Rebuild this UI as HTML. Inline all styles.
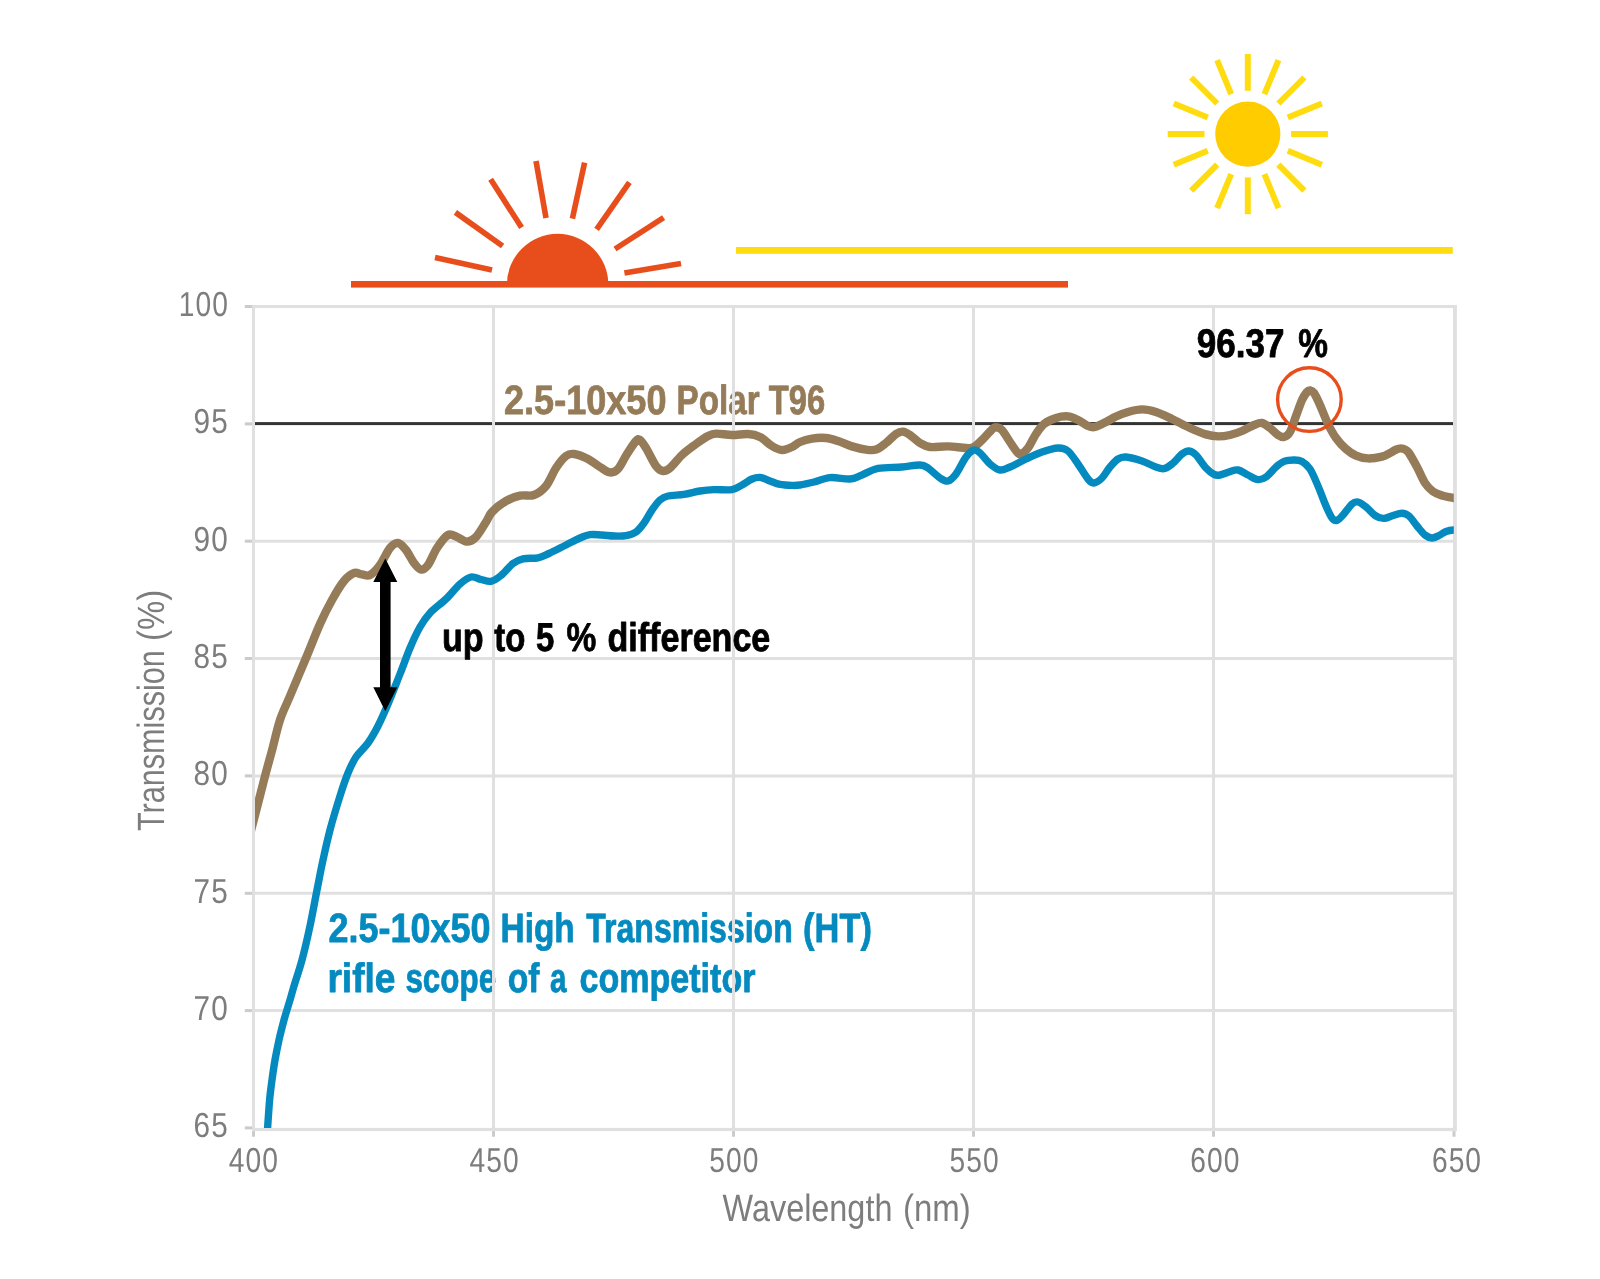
<!DOCTYPE html>
<html lang="en"><head><meta charset="utf-8"><title>Transmission chart</title>
<style>html,body{margin:0;padding:0;background:#fff}svg{display:block}text{font-family:"Liberation Sans",sans-serif;text-rendering:geometricPrecision}svg{will-change:transform}.t{fill:#7d7d7d}.k{letter-spacing:1.3px}.b{font-weight:bold;stroke-width:.8px;stroke-linejoin:round}</style></head><body>
<svg width="1600" height="1279" viewBox="0 0 1600 1279">
<rect width="1600" height="1279" fill="#fff"/>
<defs><clipPath id="plot"><rect x="255" y="300" width="1198.8" height="827.9"/></clipPath></defs>
<g stroke="#e84e1b" stroke-width="5.6" fill="none">
<line x1="435.0" y1="257.6" x2="492.0" y2="270.0"/>
<line x1="455.4" y1="212.4" x2="502.6" y2="246.0"/>
<line x1="490.6" y1="179.2" x2="521.6" y2="227.6"/>
<line x1="536.0" y1="161.0" x2="546.0" y2="218.0"/>
<line x1="584.6" y1="162.6" x2="572.4" y2="218.6"/>
<line x1="629.4" y1="182.4" x2="596.6" y2="229.4"/>
<line x1="663.6" y1="217.6" x2="615.0" y2="249.0"/>
<line x1="681.0" y1="263.4" x2="624.4" y2="273.0"/>
</g>
<path d="M506.9 284.5A50.7 50.7 0 0 1 608.3 284.5Z" fill="#e84e1b"/>
<rect x="351" y="281" width="717" height="6.6" fill="#e84e1b"/>
<g stroke="#ffdc10" stroke-width="6" fill="none">
<line x1="1291.1" y1="134.1" x2="1327.9" y2="134.1"/>
<line x1="1287.8" y1="150.7" x2="1321.8" y2="164.8"/>
<line x1="1278.4" y1="164.7" x2="1304.4" y2="190.7"/>
<line x1="1264.4" y1="174.1" x2="1278.5" y2="208.1"/>
<line x1="1247.8" y1="177.4" x2="1247.8" y2="214.2"/>
<line x1="1231.2" y1="174.1" x2="1217.1" y2="208.1"/>
<line x1="1217.2" y1="164.7" x2="1191.2" y2="190.7"/>
<line x1="1207.8" y1="150.7" x2="1173.8" y2="164.8"/>
<line x1="1204.5" y1="134.1" x2="1167.7" y2="134.1"/>
<line x1="1207.8" y1="117.5" x2="1173.8" y2="103.4"/>
<line x1="1217.2" y1="103.5" x2="1191.2" y2="77.5"/>
<line x1="1231.2" y1="94.1" x2="1217.1" y2="60.1"/>
<line x1="1247.8" y1="90.8" x2="1247.8" y2="54.0"/>
<line x1="1264.4" y1="94.1" x2="1278.5" y2="60.1"/>
<line x1="1278.4" y1="103.5" x2="1304.4" y2="77.5"/>
<line x1="1287.8" y1="117.5" x2="1321.8" y2="103.4"/>
</g>
<circle cx="1247.8" cy="134.1" r="32.6" fill="#ffcc00"/>
<rect x="736" y="247" width="716.8" height="6.8" fill="#ffdc10"/>
<rect x="255" y="422.1" width="1198" height="3" fill="#333"/>
<text class="b" y="414.2" font-size="41.0" fill="#957b58" stroke="#957b58"><tspan x="504.0" textLength="162.5" lengthAdjust="spacingAndGlyphs">2.5-10x50</tspan> <tspan x="676.6" textLength="83.0" lengthAdjust="spacingAndGlyphs">Polar</tspan> <tspan x="768.7" textLength="56.4" lengthAdjust="spacingAndGlyphs">T96</tspan></text>
<text class="b" y="941.5" font-size="41.0" fill="#048abf" stroke="#048abf"><tspan x="328.6" textLength="161.9" lengthAdjust="spacingAndGlyphs">2.5-10x50</tspan> <tspan x="500.5" textLength="74.3" lengthAdjust="spacingAndGlyphs">High</tspan> <tspan x="586.3" textLength="206.4" lengthAdjust="spacingAndGlyphs">Transmission</tspan> <tspan x="803.1" textLength="68.8" lengthAdjust="spacingAndGlyphs">(HT)</tspan></text>
<text class="b" y="992.3" font-size="41.0" fill="#048abf" stroke="#048abf"><tspan x="327.4" textLength="68.1" lengthAdjust="spacingAndGlyphs">rifle</tspan> <tspan x="405.4" textLength="90.7" lengthAdjust="spacingAndGlyphs">scope</tspan> <tspan x="507.7" textLength="31.7" lengthAdjust="spacingAndGlyphs">of</tspan> <tspan x="550.1" textLength="16.5" lengthAdjust="spacingAndGlyphs">a</tspan> <tspan x="579.5" textLength="176.0" lengthAdjust="spacingAndGlyphs">competitor</tspan></text>
<g stroke="#e0e0e0" stroke-width="3" fill="none">
<line x1="253.5" y1="541.2" x2="1455" y2="541.2"/>
<line x1="253.5" y1="658.5" x2="1455" y2="658.5"/>
<line x1="253.5" y1="775.9" x2="1455" y2="775.9"/>
<line x1="253.5" y1="893.2" x2="1455" y2="893.2"/>
<line x1="253.5" y1="1010.6" x2="1455" y2="1010.6"/>
<line x1="493.5" y1="306.5" x2="493.5" y2="1129.5"/>
<line x1="733.5" y1="306.5" x2="733.5" y2="1129.5"/>
<line x1="973.5" y1="306.5" x2="973.5" y2="1129.5"/>
<line x1="1213.5" y1="306.5" x2="1213.5" y2="1129.5"/>
</g>
<g fill="#e0e0e0">
<rect x="252" y="305" width="1204.9" height="3"/>
<rect x="252" y="1127.9" width="1204.9" height="3.2"/>
<rect x="252" y="305" width="3" height="826.1"/>
<rect x="1453" y="305" width="3.9" height="826.1"/>
</g>
<g fill="#cbcbcb">
<rect x="244.8" y="305.0" width="7.2" height="3"/>
<rect x="244.8" y="422.4" width="7.2" height="3"/>
<rect x="244.8" y="539.7" width="7.2" height="3"/>
<rect x="244.8" y="657.0" width="7.2" height="3"/>
<rect x="244.8" y="774.4" width="7.2" height="3"/>
<rect x="244.8" y="891.8" width="7.2" height="3"/>
<rect x="244.8" y="1009.1" width="7.2" height="3"/>
<rect x="244.8" y="1126.4" width="7.2" height="3"/>
<rect x="252.0" y="1131.1" width="3" height="5.6"/>
<rect x="492.0" y="1131.1" width="3" height="5.6"/>
<rect x="732.0" y="1131.1" width="3" height="5.6"/>
<rect x="972.0" y="1131.1" width="3" height="5.6"/>
<rect x="1212.0" y="1131.1" width="3" height="5.6"/>
<rect x="1452.5" y="1131.1" width="3" height="5.6"/>
</g>
<text class="t k" transform="translate(228.9 315.9) scale(0.8150 1)" font-size="34.6" text-anchor="end">100</text>
<text class="t k" transform="translate(228.9 433.2) scale(0.8600 1)" font-size="34.6" text-anchor="end">95</text>
<text class="t k" transform="translate(228.9 550.6) scale(0.8600 1)" font-size="34.6" text-anchor="end">90</text>
<text class="t k" transform="translate(228.9 667.9) scale(0.8600 1)" font-size="34.6" text-anchor="end">85</text>
<text class="t k" transform="translate(228.9 785.3) scale(0.8600 1)" font-size="34.6" text-anchor="end">80</text>
<text class="t k" transform="translate(228.9 902.6) scale(0.8600 1)" font-size="34.6" text-anchor="end">75</text>
<text class="t k" transform="translate(228.9 1020.0) scale(0.8600 1)" font-size="34.6" text-anchor="end">70</text>
<text class="t k" transform="translate(228.9 1137.3) scale(0.8600 1)" font-size="34.6" text-anchor="end">65</text>
<text class="t k" transform="translate(253.8 1172.3) scale(0.8150 1)" font-size="34.6" text-anchor="middle">400</text>
<text class="t k" transform="translate(494.7 1172.3) scale(0.8150 1)" font-size="34.6" text-anchor="middle">450</text>
<text class="t k" transform="translate(734.4 1172.3) scale(0.8150 1)" font-size="34.6" text-anchor="middle">500</text>
<text class="t k" transform="translate(974.7 1172.3) scale(0.8150 1)" font-size="34.6" text-anchor="middle">550</text>
<text class="t k" transform="translate(1215.4 1172.3) scale(0.8150 1)" font-size="34.6" text-anchor="middle">600</text>
<text class="t k" transform="translate(1457.0 1172.3) scale(0.8150 1)" font-size="34.6" text-anchor="middle">650</text>
<text class="t" y="164.1" font-size="38.0" transform="rotate(-90)"><tspan x="-831.1" textLength="181.0" lengthAdjust="spacingAndGlyphs">Transmission</tspan> <tspan x="-640.9" textLength="51.1" lengthAdjust="spacingAndGlyphs">(%)</tspan></text>
<text class="t" y="1220.7" font-size="38.0"><tspan x="722.6" textLength="169.8" lengthAdjust="spacingAndGlyphs">Wavelength</tspan> <tspan x="903.0" textLength="67.8" lengthAdjust="spacingAndGlyphs">(nm)</tspan></text>
<g clip-path="url(#plot)" fill="none" stroke-linejoin="round">
<path stroke="#957b58" stroke-width="8.4" d="M240.0 873.5C240.8 870.2 242.5 863.9 245.0 854.0C247.5 844.1 251.8 827.4 255.2 814.4C258.6 801.4 262.3 786.4 265.1 775.8C267.9 765.1 269.5 759.8 272.0 750.5C274.5 741.2 277.0 729.1 280.0 720.0C283.0 710.9 285.7 706.3 290.0 696.0C294.3 685.7 301.0 670.0 306.0 658.0C311.0 646.0 315.7 633.7 320.0 624.0C324.3 614.3 328.0 607.2 332.0 600.0C336.0 592.8 340.3 585.5 344.0 581.0C347.7 576.5 351.0 574.1 354.0 573.0C357.0 571.9 359.3 574.1 362.0 574.4C364.7 574.7 367.0 576.6 370.0 575.0C373.0 573.4 376.7 569.5 380.0 565.0C383.3 560.5 387.0 551.7 390.0 548.0C393.0 544.3 395.3 542.7 398.0 543.0C400.7 543.3 403.3 546.7 406.0 550.0C408.7 553.3 411.5 559.7 414.0 563.0C416.5 566.3 418.7 569.3 421.0 569.6C423.3 569.9 425.3 568.6 428.0 565.0C430.7 561.4 433.7 553.0 437.0 548.0C440.3 543.0 444.7 536.8 448.0 535.0C451.3 533.2 453.8 535.9 457.0 537.0C460.2 538.1 463.8 541.6 467.0 541.6C470.2 541.6 472.8 540.3 476.0 537.0C479.2 533.7 483.3 526.2 486.0 522.0C488.7 517.8 488.7 515.5 492.0 512.0C495.3 508.5 501.3 503.7 506.0 501.0C510.7 498.3 515.3 496.6 520.0 495.6C524.7 494.6 529.7 496.6 534.0 495.0C538.3 493.4 542.3 490.5 546.0 486.0C549.7 481.5 552.7 473.0 556.0 468.0C559.3 463.0 563.0 458.3 566.0 456.0C569.0 453.7 570.3 453.5 574.0 454.0C577.7 454.5 583.7 456.8 588.0 459.0C592.3 461.2 596.3 464.8 600.0 467.0C603.7 469.2 607.0 472.1 610.0 472.4C613.0 472.7 615.2 472.1 618.0 469.0C620.8 465.9 624.0 458.7 627.0 454.0C630.0 449.3 633.8 443.3 636.0 441.0C638.2 438.7 638.3 438.8 640.0 440.0C641.7 441.2 643.3 443.7 646.0 448.0C648.7 452.3 653.2 462.2 656.0 466.0C658.8 469.8 660.7 470.7 663.0 471.0C665.3 471.3 666.8 470.7 670.0 468.0C673.2 465.3 677.7 459.0 682.0 455.0C686.3 451.0 691.7 447.2 696.0 444.0C700.3 440.8 704.7 437.7 708.0 436.0C711.3 434.3 712.0 433.8 716.0 433.6C720.0 433.4 726.7 434.9 732.0 435.0C737.3 435.1 743.3 433.7 748.0 434.0C752.7 434.3 756.0 435.0 760.0 437.0C764.0 439.0 768.3 443.8 772.0 446.0C775.7 448.2 778.7 449.8 782.0 450.0C785.3 450.2 789.0 448.3 792.0 447.0C795.0 445.7 796.7 443.4 800.0 442.0C803.3 440.6 807.7 439.3 812.0 438.6C816.3 437.9 821.7 437.6 826.0 438.0C830.3 438.4 833.7 439.6 838.0 441.0C842.3 442.4 847.3 445.0 852.0 446.4C856.7 447.8 862.0 449.1 866.0 449.6C870.0 450.1 872.7 450.7 876.0 449.6C879.3 448.5 882.7 445.6 886.0 443.0C889.3 440.4 893.2 435.9 896.0 434.0C898.8 432.1 900.7 431.4 903.0 431.6C905.3 431.8 907.2 433.1 910.0 435.0C912.8 436.9 916.7 441.0 920.0 443.0C923.3 445.0 925.3 446.4 930.0 447.0C934.7 447.6 942.0 446.2 948.0 446.4C954.0 446.6 961.7 447.9 966.0 448.0C970.3 448.1 971.0 448.7 974.0 447.0C977.0 445.3 980.8 441.1 984.0 438.0C987.2 434.9 990.8 430.2 993.0 428.4C995.2 426.6 995.5 427.1 997.0 427.4C998.5 427.7 999.8 427.6 1002.0 430.0C1004.2 432.4 1007.5 438.3 1010.0 442.0C1012.5 445.7 1015.2 450.0 1017.0 452.0C1018.8 454.0 1019.2 454.7 1021.0 454.0C1022.8 453.3 1025.5 451.3 1028.0 448.0C1030.5 444.7 1033.3 438.0 1036.0 434.0C1038.7 430.0 1040.7 426.7 1044.0 424.0C1047.3 421.3 1052.0 419.3 1056.0 418.0C1060.0 416.7 1064.3 416.1 1068.0 416.4C1071.7 416.7 1074.7 418.4 1078.0 420.0C1081.3 421.6 1085.2 424.8 1088.0 426.0C1090.8 427.2 1092.0 427.7 1095.0 427.0C1098.0 426.3 1102.5 423.8 1106.0 422.0C1109.5 420.2 1112.3 418.2 1116.0 416.5C1119.7 414.8 1123.7 413.2 1128.0 412.0C1132.3 410.8 1137.3 409.4 1142.0 409.4C1146.7 409.4 1151.0 410.4 1156.0 412.0C1161.0 413.6 1166.3 416.3 1172.0 419.0C1177.7 421.7 1184.3 425.4 1190.0 428.0C1195.7 430.6 1201.3 433.0 1206.0 434.4C1210.7 435.8 1214.0 436.3 1218.0 436.4C1222.0 436.5 1226.0 435.9 1230.0 435.0C1234.0 434.1 1238.0 432.7 1242.0 431.0C1246.0 429.3 1250.7 426.3 1254.0 425.0C1257.3 423.7 1259.3 422.5 1262.0 423.0C1264.7 423.5 1267.3 426.0 1270.0 428.0C1272.7 430.0 1275.7 433.5 1278.0 435.0C1280.3 436.5 1282.0 437.5 1284.0 437.0C1286.0 436.5 1288.0 435.5 1290.0 432.0C1292.0 428.5 1294.0 421.3 1296.0 416.0C1298.0 410.7 1300.2 404.0 1302.0 400.0C1303.8 396.0 1305.7 393.6 1307.0 392.0C1308.3 390.4 1308.8 390.2 1310.0 390.4C1311.2 390.6 1312.3 390.6 1314.0 393.0C1315.7 395.4 1317.7 399.8 1320.0 405.0C1322.3 410.2 1325.3 418.5 1328.0 424.0C1330.7 429.5 1333.0 433.8 1336.0 438.0C1339.0 442.2 1342.7 446.1 1346.0 449.0C1349.3 451.9 1352.3 454.0 1356.0 455.6C1359.7 457.2 1363.7 458.2 1368.0 458.4C1372.3 458.6 1378.3 457.5 1382.0 456.6C1385.7 455.7 1387.7 454.2 1390.0 453.0C1392.3 451.8 1394.2 450.4 1396.0 449.6C1397.8 448.8 1399.5 448.4 1401.0 448.4C1402.5 448.4 1403.7 448.7 1405.0 449.5C1406.3 450.3 1407.0 450.1 1409.0 453.0C1411.0 455.9 1414.3 462.0 1417.0 467.0C1419.7 472.0 1422.3 478.9 1425.0 483.0C1427.7 487.1 1430.2 489.4 1433.0 491.5C1435.8 493.6 1438.5 494.4 1442.0 495.5C1445.5 496.6 1450.5 497.4 1453.8 498.0C1457.1 498.6 1460.6 498.8 1462.0 499.0"/>
<path stroke="#048abf" stroke-width="7.4" d="M266.6 1145.0C266.8 1142.2 267.1 1135.5 267.6 1128.0C268.1 1120.5 268.9 1108.0 269.6 1100.0C270.3 1092.0 271.1 1086.7 272.0 1080.0C272.9 1073.3 273.8 1066.7 275.0 1060.0C276.2 1053.3 277.5 1046.7 279.0 1040.0C280.5 1033.3 282.2 1026.7 284.0 1020.0C285.8 1013.3 288.3 1005.7 290.0 1000.0C291.7 994.3 292.0 992.7 294.0 986.0C296.0 979.3 299.3 970.0 302.0 960.0C304.7 950.0 307.5 937.7 310.0 926.0C312.5 914.3 314.8 901.0 317.0 890.0C319.2 879.0 320.8 870.0 323.0 860.0C325.2 850.0 327.2 840.7 330.0 830.0C332.8 819.3 337.0 805.5 340.0 796.0C343.0 786.5 345.3 779.5 348.0 773.0C350.7 766.5 352.7 762.0 356.0 757.0C359.3 752.0 364.3 748.2 368.0 743.0C371.7 737.8 374.7 732.5 378.0 726.0C381.3 719.5 384.3 712.7 388.0 704.0C391.7 695.3 396.3 683.3 400.0 674.0C403.7 664.7 406.7 655.8 410.0 648.0C413.3 640.2 416.7 632.8 420.0 627.0C423.3 621.2 425.7 617.7 430.0 613.0C434.3 608.3 441.0 603.8 446.0 599.0C451.0 594.2 455.8 587.7 460.0 584.0C464.2 580.3 467.5 577.8 471.0 577.0C474.5 576.2 477.7 578.8 481.0 579.5C484.3 580.2 487.7 582.0 491.0 581.3C494.3 580.6 497.3 578.5 501.0 575.5C504.7 572.5 509.3 566.3 513.0 563.5C516.7 560.7 518.8 559.8 523.0 558.8C527.2 557.8 533.7 558.7 538.0 557.8C542.3 556.9 544.3 555.6 549.0 553.5C553.7 551.4 560.8 547.6 566.0 545.0C571.2 542.4 576.0 539.7 580.0 538.0C584.0 536.3 586.3 535.1 590.0 534.6C593.7 534.1 598.0 534.8 602.0 535.0C606.0 535.2 610.0 535.9 614.0 536.0C618.0 536.1 622.3 536.3 626.0 535.6C629.7 534.9 633.0 534.1 636.0 532.0C639.0 529.9 641.3 526.7 644.0 523.0C646.7 519.3 649.3 513.8 652.0 510.0C654.7 506.2 657.3 502.3 660.0 500.0C662.7 497.7 664.0 496.9 668.0 496.0C672.0 495.1 678.7 495.2 684.0 494.4C689.3 493.6 695.0 491.8 700.0 491.0C705.0 490.2 708.7 489.8 714.0 489.6C719.3 489.4 727.3 490.4 732.0 489.6C736.7 488.8 738.7 486.8 742.0 485.0C745.3 483.2 749.0 480.3 752.0 479.0C755.0 477.7 757.0 477.1 760.0 477.4C763.0 477.7 766.7 479.8 770.0 481.0C773.3 482.2 776.3 483.7 780.0 484.4C783.7 485.1 788.7 485.3 792.0 485.4C795.3 485.5 796.3 485.6 800.0 485.0C803.7 484.4 809.0 483.2 814.0 482.0C819.0 480.8 824.0 478.1 830.0 477.6C836.0 477.1 844.7 479.4 850.0 479.0C855.3 478.6 857.3 476.8 862.0 475.0C866.7 473.2 871.3 469.7 878.0 468.4C884.7 467.1 895.0 467.6 902.0 467.0C909.0 466.4 915.7 464.8 920.0 465.0C924.3 465.2 924.7 465.8 928.0 468.0C931.3 470.2 936.7 475.8 940.0 478.0C943.3 480.2 945.3 481.7 948.0 481.0C950.7 480.3 953.0 478.0 956.0 474.0C959.0 470.0 963.0 461.0 966.0 457.0C969.0 453.0 971.7 450.7 974.0 450.0C976.3 449.3 977.3 450.7 980.0 453.0C982.7 455.3 986.7 461.2 990.0 464.0C993.3 466.8 996.7 469.5 1000.0 470.0C1003.3 470.5 1005.7 468.8 1010.0 467.0C1014.3 465.2 1020.7 461.5 1026.0 459.0C1031.3 456.5 1036.7 453.8 1042.0 452.0C1047.3 450.2 1053.7 448.2 1058.0 448.0C1062.3 447.8 1064.7 448.3 1068.0 451.0C1071.3 453.7 1074.7 459.3 1078.0 464.0C1081.3 468.7 1085.3 475.8 1088.0 479.0C1090.7 482.2 1091.7 483.2 1094.0 483.0C1096.3 482.8 1099.3 480.7 1102.0 478.0C1104.7 475.3 1107.3 470.2 1110.0 467.0C1112.7 463.8 1115.3 460.7 1118.0 459.0C1120.7 457.3 1122.0 456.7 1126.0 457.0C1130.0 457.3 1137.0 459.3 1142.0 461.0C1147.0 462.7 1152.3 465.7 1156.0 467.0C1159.7 468.3 1161.3 469.1 1164.0 468.6C1166.7 468.1 1169.0 466.4 1172.0 464.0C1175.0 461.6 1179.2 456.2 1182.0 454.0C1184.8 451.8 1186.7 450.8 1189.0 451.0C1191.3 451.2 1193.2 452.2 1196.0 455.0C1198.8 457.8 1203.0 464.8 1206.0 468.0C1209.0 471.2 1211.7 473.2 1214.0 474.4C1216.3 475.6 1217.3 475.5 1220.0 475.0C1222.7 474.5 1227.0 472.4 1230.0 471.6C1233.0 470.8 1235.0 469.4 1238.0 470.0C1241.0 470.6 1244.7 473.4 1248.0 475.0C1251.3 476.6 1255.0 479.3 1258.0 479.6C1261.0 479.9 1263.0 479.1 1266.0 477.0C1269.0 474.9 1273.0 469.6 1276.0 467.0C1279.0 464.4 1281.0 462.6 1284.0 461.4C1287.0 460.2 1291.0 460.0 1294.0 460.0C1297.0 460.0 1299.3 459.9 1302.0 461.4C1304.7 462.9 1307.3 464.9 1310.0 469.0C1312.7 473.1 1315.3 479.8 1318.0 486.0C1320.7 492.2 1323.7 500.7 1326.0 506.0C1328.3 511.3 1330.2 515.6 1332.0 518.0C1333.8 520.4 1335.2 520.9 1337.0 520.4C1338.8 519.9 1340.5 517.7 1343.0 515.0C1345.5 512.3 1349.5 506.2 1352.0 504.0C1354.5 501.8 1355.7 501.5 1358.0 502.0C1360.3 502.5 1363.0 504.7 1366.0 507.0C1369.0 509.3 1373.0 514.1 1376.0 516.0C1379.0 517.9 1381.2 518.5 1384.0 518.4C1386.8 518.3 1390.0 516.4 1393.0 515.5C1396.0 514.6 1399.3 513.1 1402.0 513.2C1404.7 513.3 1406.5 513.9 1409.0 516.0C1411.5 518.1 1414.3 522.8 1417.0 526.0C1419.7 529.2 1422.5 533.0 1425.0 535.0C1427.5 537.0 1429.7 537.9 1432.0 538.0C1434.3 538.1 1436.7 536.6 1439.0 535.5C1441.3 534.4 1443.5 532.4 1446.0 531.5C1448.5 530.6 1451.1 530.2 1453.8 530.0C1456.5 529.8 1460.6 530.0 1462.0 530.0"/>
</g>
<circle cx="1309.4" cy="399.6" r="31.8" fill="none" stroke="#e84e1b" stroke-width="3.4"/>
<path fill="#000" d="M385.3 558.4L397.3 582H390.6V687.3H397.3L385.3 711.2L373.3 687.3H380V582H373.3Z"/>
<text class="b" y="357.0" font-size="40.0" fill="#000" stroke="#000"><tspan x="1196.8" textLength="87.7" lengthAdjust="spacingAndGlyphs">96.37</tspan> <tspan x="1298.2" textLength="29.7" lengthAdjust="spacingAndGlyphs">%</tspan></text>
<text class="b" y="651.3" font-size="40.0" fill="#000" stroke="#000"><tspan x="441.9" textLength="41.7" lengthAdjust="spacingAndGlyphs">up</tspan> <tspan x="494.2" textLength="31.1" lengthAdjust="spacingAndGlyphs">to</tspan> <tspan x="535.9" textLength="18.3" lengthAdjust="spacingAndGlyphs">5</tspan> <tspan x="566.5" textLength="29.8" lengthAdjust="spacingAndGlyphs">%</tspan> <tspan x="607.5" textLength="162.8" lengthAdjust="spacingAndGlyphs">difference</tspan></text>
</svg></body></html>
